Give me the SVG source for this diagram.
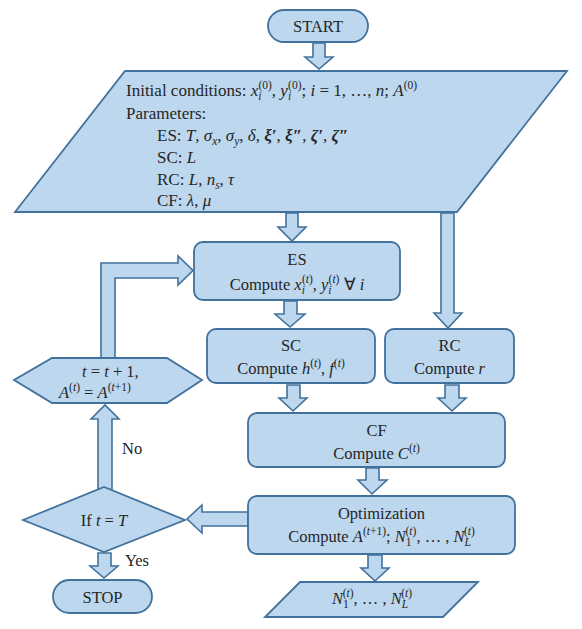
<svg xmlns="http://www.w3.org/2000/svg" width="582" height="629" viewBox="0 0 582 629">
<rect width="582" height="629" fill="#ffffff"/>
<g id="connectors" fill="#BDD7EE" stroke="#41719C" stroke-width="1.6">
<polygon points="313,43 325,43 325,57 333,57 319,69 305,57 313,57"/>
<polygon points="286,213 298,213 298,227 306,227 292,241 278,227 286,227"/>
<polygon points="441,213 454,213 454,313 462,313 448,328 434,313 441,313"/>
<polygon points="284,301 297,301 297,314 305,314 290,327 275,314 284,314"/>
<polygon points="287,385 300,385 300,398 307,398 293,411 279,398 287,398"/>
<polygon points="445,385 459,385 459,398 466,398 452,411 438,398 445,398"/>
<polygon points="366,468 379,468 379,480 387,480 372,494 358,480 366,480"/>
<polygon points="368,555 382,555 382,568 389,568 375,581 361,568 368,568"/>
<polygon points="98,553 111,553 111,566 118,566 104,578 90,566 98,566"/>
<polygon points="248,512 202,512 202,505 187,519 202,533 202,526 248,526"/>
<polygon points="98,490 98,419 91,419 105,405 119,419 112,419 112,490"/>
<polygon points="101,359 101,263 178,263 178,256 193,270.5 178,285 178,278 115,278 115,359"/>
</g>
<g id="start">
<rect x="268" y="10" width="100" height="32" rx="16" fill="#BDD7EE" stroke="#41719C" stroke-width="1.8"/>
<text style="font-family:'Times New Roman','Liberation Serif',serif;font-size:16.5px" fill="#262626" text-anchor="middle" x="318" y="32">START</text>
</g>
<g id="inputs">
<polygon points="125,71 567,71 457,212 15,212" fill="#BDD7EE" stroke="#41719C" stroke-width="1.8"/>
<text style="font-family:'Times New Roman','Liberation Serif',serif;font-size:17px" fill="#262626" x="126" y="96">Initial conditions: <tspan font-style="italic">x</tspan><tspan font-size="11.5" font-style="italic" dy="4">i</tspan><tspan font-size="11.5" dx="-3" dy="-11">(0)</tspan><tspan dy="7">, </tspan><tspan font-style="italic">y</tspan><tspan font-size="11.5" font-style="italic" dy="4">i</tspan><tspan font-size="11.5" dx="-3" dy="-11">(0)</tspan><tspan dy="7">; </tspan><tspan font-style="italic">i</tspan> = 1, …, <tspan font-style="italic">n</tspan>; <tspan font-style="italic">A</tspan><tspan font-size="11.5" dy="-7">(0)</tspan></text>
<text style="font-family:'Times New Roman','Liberation Serif',serif;font-size:17px" fill="#262626" x="126" y="119">Parameters:</text>
<text style="font-family:'Times New Roman','Liberation Serif',serif;font-size:17px" fill="#262626" x="157" y="141">ES: <tspan font-style="italic">T</tspan>, <tspan font-style="italic">σ</tspan><tspan font-size="11.5" font-style="italic" dy="4">x</tspan><tspan dy="-4">, </tspan><tspan font-style="italic">σ</tspan><tspan font-size="11.5" font-style="italic" dy="4">y</tspan><tspan dy="-4">, </tspan><tspan font-style="italic">δ</tspan>, <tspan font-weight="bold" font-style="italic">ξ′</tspan>, <tspan font-weight="bold" font-style="italic">ξ″</tspan>, <tspan font-weight="bold" font-style="italic">ζ′</tspan>, <tspan font-weight="bold" font-style="italic">ζ″</tspan></text>
<text style="font-family:'Times New Roman','Liberation Serif',serif;font-size:17px" fill="#262626" x="157" y="163">SC: <tspan font-style="italic">L</tspan></text>
<text style="font-family:'Times New Roman','Liberation Serif',serif;font-size:17px" fill="#262626" x="157" y="185">RC: <tspan font-style="italic">L</tspan>, <tspan font-style="italic">n</tspan><tspan font-size="11.5" font-style="italic" dy="4">s</tspan><tspan dy="-4">, </tspan><tspan font-style="italic">τ</tspan></text>
<text style="font-family:'Times New Roman','Liberation Serif',serif;font-size:17px" fill="#262626" x="157" y="206">CF: <tspan font-style="italic">λ</tspan>, <tspan font-style="italic">μ</tspan></text>
</g>
<g id="es">
<rect x="194" y="242" width="206" height="58" rx="9" fill="#BDD7EE" stroke="#41719C" stroke-width="1.8"/>
<text style="font-family:'Times New Roman','Liberation Serif',serif;font-size:16.5px" fill="#262626" text-anchor="middle" x="297" y="265">ES</text>
<text style="font-family:'Times New Roman','Liberation Serif',serif;font-size:16.5px" fill="#262626" text-anchor="middle" x="297" y="290">Compute <tspan font-style="italic">x</tspan><tspan font-size="11.5" font-style="italic" dy="4">i</tspan><tspan font-size="11.5" dx="-3" dy="-11">(<tspan font-style="italic">t</tspan>)</tspan><tspan dy="7">, </tspan><tspan font-style="italic">y</tspan><tspan font-size="11.5" font-style="italic" dy="4">i</tspan><tspan font-size="11.5" dx="-3" dy="-11">(<tspan font-style="italic">t</tspan>)</tspan><tspan dy="7"> ∀ </tspan><tspan font-style="italic">i</tspan></text>
</g>
<g id="sc">
<rect x="207" y="329" width="168" height="54" rx="9" fill="#BDD7EE" stroke="#41719C" stroke-width="1.8"/>
<text style="font-family:'Times New Roman','Liberation Serif',serif;font-size:16.5px" fill="#262626" text-anchor="middle" x="291" y="351">SC</text>
<text style="font-family:'Times New Roman','Liberation Serif',serif;font-size:16.5px" fill="#262626" text-anchor="middle" x="291" y="374">Compute <tspan font-style="italic">h</tspan><tspan font-size="11.5" dy="-7">(<tspan font-style="italic">t</tspan>)</tspan><tspan dy="7">, </tspan><tspan font-style="italic">f</tspan><tspan font-size="11.5" dy="-7">(<tspan font-style="italic">t</tspan>)</tspan></text>
</g>
<g id="rc">
<rect x="385" y="329" width="129" height="54" rx="9" fill="#BDD7EE" stroke="#41719C" stroke-width="1.8"/>
<text style="font-family:'Times New Roman','Liberation Serif',serif;font-size:16.5px" fill="#262626" text-anchor="middle" x="449.5" y="351">RC</text>
<text style="font-family:'Times New Roman','Liberation Serif',serif;font-size:16.5px" fill="#262626" text-anchor="middle" x="449.5" y="374">Compute <tspan font-style="italic">r</tspan></text>
</g>
<g id="cf">
<rect x="248" y="413" width="257" height="54" rx="9" fill="#BDD7EE" stroke="#41719C" stroke-width="1.8"/>
<text style="font-family:'Times New Roman','Liberation Serif',serif;font-size:16.5px" fill="#262626" text-anchor="middle" x="376.5" y="436">CF</text>
<text style="font-family:'Times New Roman','Liberation Serif',serif;font-size:16.5px" fill="#262626" text-anchor="middle" x="376.5" y="459">Compute <tspan font-style="italic">C</tspan><tspan font-size="11.5" dy="-7">(<tspan font-style="italic">t</tspan>)</tspan></text>
</g>
<g id="optimization">
<rect x="248" y="496" width="267" height="58" rx="9" fill="#BDD7EE" stroke="#41719C" stroke-width="1.8"/>
<text style="font-family:'Times New Roman','Liberation Serif',serif;font-size:16.5px" fill="#262626" text-anchor="middle" x="381.5" y="519">Optimization</text>
<text style="font-family:'Times New Roman','Liberation Serif',serif;font-size:16.5px" fill="#262626" text-anchor="middle" x="381.5" y="542">Compute <tspan font-style="italic">A</tspan><tspan font-size="11.5" dy="-7">(<tspan font-style="italic">t</tspan>+1)</tspan><tspan dy="7">; </tspan><tspan font-style="italic">N</tspan><tspan font-size="11.5" dy="4">1</tspan><tspan font-size="11.5" dx="-6" dy="-11">(<tspan font-style="italic">t</tspan>)</tspan><tspan dy="7">, … , </tspan><tspan font-style="italic">N</tspan><tspan font-size="11.5" font-style="italic" dy="4">L</tspan><tspan font-size="11.5" dx="-7" dy="-11">(<tspan font-style="italic">t</tspan>)</tspan></text>
</g>
<g id="output">
<polygon points="300,582 478,582 443,617 265,617" fill="#BDD7EE" stroke="#41719C" stroke-width="1.8"/>
<text style="font-family:'Times New Roman','Liberation Serif',serif;font-size:16.5px" fill="#262626" text-anchor="middle" x="372" y="604"><tspan font-style="italic">N</tspan><tspan font-size="11.5" dy="4">1</tspan><tspan font-size="11.5" dx="-6" dy="-11">(<tspan font-style="italic">t</tspan>)</tspan><tspan dy="7">, … , </tspan><tspan font-style="italic">N</tspan><tspan font-size="11.5" font-style="italic" dy="4">L</tspan><tspan font-size="11.5" dx="-7" dy="-11">(<tspan font-style="italic">t</tspan>)</tspan></text>
</g>
<g id="update">
<polygon points="14,380 52,358 167,358 202,380 167,403 52,403" fill="#BDD7EE" stroke="#41719C" stroke-width="1.8"/>
<text style="font-family:'Times New Roman','Liberation Serif',serif;font-size:16.5px" fill="#262626" x="82" y="377"><tspan font-style="italic">t</tspan> = <tspan font-style="italic">t</tspan> + 1,</text>
<text style="font-family:'Times New Roman','Liberation Serif',serif;font-size:16.5px" fill="#262626" x="59" y="398"><tspan font-style="italic">A</tspan><tspan font-size="11.5" dy="-7">(<tspan font-style="italic">t</tspan>)</tspan><tspan dy="7"> = </tspan><tspan font-style="italic">A</tspan><tspan font-size="11.5" dy="-7">(<tspan font-style="italic">t</tspan>+1)</tspan></text>
</g>
<g id="decision">
<polygon points="23,520 104,487 185,520 104,552" fill="#BDD7EE" stroke="#41719C" stroke-width="1.8"/>
<text style="font-family:'Times New Roman','Liberation Serif',serif;font-size:16.5px" fill="#262626" text-anchor="middle" x="104" y="526">If <tspan font-style="italic">t</tspan> = <tspan font-style="italic">T</tspan></text>
</g>
<g id="stop">
<rect x="53" y="580" width="99" height="33" rx="16.5" fill="#BDD7EE" stroke="#41719C" stroke-width="1.8"/>
<text style="font-family:'Times New Roman','Liberation Serif',serif;font-size:16.5px" fill="#262626" text-anchor="middle" x="102.5" y="603">STOP</text>
</g>
<g id="labels">
<text style="font-family:'Times New Roman','Liberation Serif',serif;font-size:16.5px" fill="#262626" x="122" y="454">No</text>
<text style="font-family:'Times New Roman','Liberation Serif',serif;font-size:16.5px" fill="#262626" x="125" y="566">Yes</text>
</g>
</svg>
